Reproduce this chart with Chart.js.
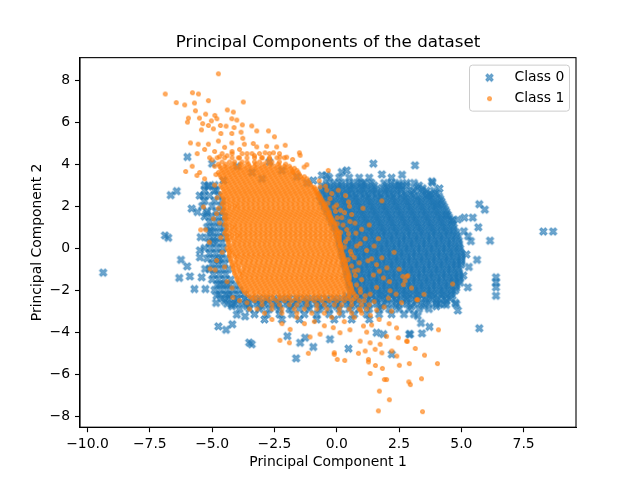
<!DOCTYPE html>
<html>
<head>
<meta charset="utf-8">
<script src="https://cdn.jsdelivr.net/npm/chart.js@4/dist/chart.umd.min.js"></script>
<style>
  html, body { margin: 0; background: #fff; }
  canvas { display: block; }
</style>
</head>
<body>
<canvas id="pca" width="640" height="480"></canvas>
<script>
// ─── data ─────────────────────────────────────────────
const classNames = ['Class 0', 'Class 1'];
const xTicks = [-10, -7.5, -5, -2.5, 0, 2.5, 5, 7.5];
const yTicks = [-8, -6, -4, -2, 0, 2, 4, 6, 8];

// Class 0: points that stand apart, [x, y]
const class0Scatter = [
  [-9.37,-1.17],[8.29,0.79],[8.68,0.79],
  [3.84,3.11],[4.12,2.84],[3.68,2.52],[5.72,2.09],[5.94,1.83],[5.68,0.99],[6.15,0.35],[5.27,0.57],[5.38,0.33],
  [4.86,1.36],[5.12,1.45],[5.46,1.45],[5.63,-0.56],[6.39,-1.39],[6.39,-1.63],[6.39,-1.87],[6.39,-2.27],
  [5.08,-1.31],[5.26,-1.87],[4.76,-2.61],[4.65,1.32],[4.05,2.09],[4.39,1.56],[5.2,-0.3],[5.3,-0.9],[5.1,0.8],
  [1.47,4.02],[1.81,3.51],[2.62,3.49],[3.14,3.94],[0.4,3.7],[0.2,3.62],[-0.4,3.46],[-0.6,3.46],[-0.94,3.22],
  [1.0,3.09],[2.54,2.98],[3.82,3.18],
  [-6.42,2.71],[-6.66,2.52],[-5.82,1.88],[-5.59,1.72],[-6.89,0.6],[-6.76,0.49],[-6.25,-0.56],[-6.0,-0.87],
  [-6.32,-1.42],[-5.89,-1.35],[-5.42,-1.39],[-5.71,-1.95],[-5.27,-1.95],[-5.49,-0.11],[-5.49,-0.44],[-5.46,0.52],
  [-5.35,2.47],[-5.15,2.92],[-4.82,2.76],[-5.22,1.64],[-5.08,0.84],[-4.95,0.36],[-5.28,-0.99],[-4.75,-0.59],
  [-4.68,-1.71],[-4.41,-1.71],[-4.82,-2.27],[-4.35,-2.27],
  [-5.99,4.34],[-5.0,4.02],[-5.16,2.98],[-4.55,3.22],
  [-4.84,-2.61],[-4.21,-2.68],[-4.01,-3.17],[-3.68,-3.25],[-4.75,-3.73],[-4.44,-3.89],[-4.19,-3.63],[-3.51,-4.5],[-3.41,-4.58],
  [-1.98,-4.19],[-1.47,-4.51],[-1.27,-4.27],[-0.94,-4.71],[-1.63,-5.25],[-0.27,-4.34],[0.47,-4.79],[2.94,-4.1],
  [2.21,-5.06],[1.87,-4.1],[1.6,-4.03],
  [5.72,-3.82],[4.86,-2.97],[4.79,-2.67],[3.38,-3.57],[3.72,-3.75],[3.42,-4.06],[2.91,-4.1],[3.25,-3.23],[4.12,-2.67],[4.39,-2.7],
  [-2.7,4.1],[-2.2,3.7],[-1.6,3.4],[-3.4,3.6],[-4.0,3.9],[-1.2,3.1],[-3.0,3.3]
];

// Class 0: the dense cloud, read row by row: [y, x1, x2, ...]
const class0Rows = [
  [3.35, -0.3,0.1,0.5,0.9,1.3,2.2],
  [3.1, -0.4,-0.1,0.2,0.5,0.8,1.1,1.4,1.9,2.2,2.5,2.8,3.1],
  [2.98, -0.6,-0.3,0,0.2,0.5,0.7,1.0,1.2,1.5,2.0,2.3,2.5,2.8,3.3],
  [2.85, -0.5,-0.25,0,0.25,0.5,0.75,1,1.25,1.5,1.8,2.05,2.3,2.6,3.2,3.45],
  [2.73, -0.6,-0.4,-0.1,0.1,0.4,0.6,0.9,1.1,1.4,1.6,1.9,2.1,2.4,2.6,2.9,3.1,3.4,3.6,3.9],
  [2.6, -0.6,-0.35,-0.1,0.15,0.4,0.65,0.9,1.15,1.4,1.65,1.9,2.15,2.4,2.7,3.0,3.5,3.75,4.0],
  [2.48, -0.7,-0.4,-0.2,0.1,0.3,0.6,0.8,1.1,1.3,1.6,1.8,2.1,2.3,2.6,2.8,3.1,3.3,3.6,3.8,4.1],
  [2.35, -0.6,-0.35,-0.1,0.15,0.4,0.65,0.9,1.15,1.4,1.65,1.9,2.15,2.4,2.65,2.9,3.15,3.4,3.65,3.9,4.15],
  [2.23, -0.6,-0.3,-0.1,0.2,0.4,0.7,0.9,1.2,1.4,1.7,1.9,2.2,2.4,2.7,2.9,3.2,3.4,3.7,3.9,4.2],
  [2.1, -0.5,-0.25,0,0.25,0.5,0.75,1,1.25,1.5,1.75,2,2.25,2.5,2.75,3,3.25,3.5,3.75,4,4.25],
  [1.98, -0.5,-0.2,0,0.3,0.5,0.8,1.0,1.3,1.5,1.8,2.0,2.3,2.5,2.8,3.0,3.3,3.5,3.8,4.0,4.3],
  [1.85, -0.4,-0.15,0.1,0.35,0.6,0.85,1.1,1.35,1.6,1.85,2.1,2.35,2.6,2.85,3.1,3.35,3.6,3.85,4.1,4.35],
  [1.73, -0.4,-0.1,0.1,0.4,0.6,0.9,1.1,1.4,1.6,1.9,2.1,2.4,2.6,2.9,3.1,3.4,3.6,3.9,4.1,4.4],
  [1.6, -0.3,-0.05,0.2,0.45,0.7,0.95,1.2,1.45,1.7,1.95,2.2,2.45,2.7,2.95,3.2,3.45,3.7,3.95,4.2,4.45],
  [1.48, -0.3,0,0.2,0.5,0.7,1.0,1.2,1.5,1.7,2.0,2.2,2.5,2.7,3.0,3.2,3.5,3.7,4.0,4.2,4.5],
  [1.35, -0.2,0.05,0.3,0.55,0.8,1.05,1.3,1.55,1.8,2.05,2.3,2.55,2.8,3.05,3.3,3.55,3.8,4.05,4.3,4.55],
  [1.23, -0.2,0.1,0.3,0.6,0.8,1.1,1.3,1.6,1.8,2.1,2.3,2.6,2.8,3.1,3.3,3.6,3.8,4.1,4.3,4.6],
  [1.1, -0.1,0.15,0.4,0.65,0.9,1.15,1.4,1.65,1.9,2.15,2.4,2.65,2.9,3.15,3.4,3.65,3.9,4.15,4.4,4.65],
  [0.98, -0.1,0.2,0.4,0.7,0.9,1.2,1.4,1.7,1.9,2.2,2.4,2.7,2.9,3.2,3.4,3.7,3.9,4.2,4.4,4.7],
  [0.85, 0,0.25,0.5,0.75,1,1.25,1.5,1.75,2,2.25,2.5,2.75,3,3.25,3.5,3.75,4,4.25,4.5,4.7],
  [0.73, 0,0.3,0.5,0.8,1.0,1.3,1.5,1.8,2.0,2.3,2.5,2.8,3.0,3.3,3.5,3.8,4.0,4.3,4.5,4.8],
  [0.6, 0.05,0.3,0.55,0.8,1.05,1.3,1.55,1.8,2.05,2.3,2.55,2.8,3.05,3.3,3.55,3.8,4.05,4.3,4.55,4.8],
  [0.48, 0.1,0.3,0.6,0.8,1.1,1.3,1.6,1.8,2.1,2.3,2.6,2.8,3.1,3.3,3.6,3.8,4.1,4.3,4.6,4.85],
  [0.35, 0.1,0.35,0.6,0.85,1.1,1.35,1.6,1.85,2.1,2.35,2.6,2.85,3.1,3.35,3.6,3.85,4.1,4.35,4.6,4.9],
  [0.23, 0.1,0.4,0.6,0.9,1.1,1.4,1.6,1.9,2.1,2.4,2.6,2.9,3.1,3.4,3.6,3.9,4.1,4.4,4.6,4.9],
  [0.1, 0.15,0.4,0.65,0.9,1.15,1.4,1.65,1.9,2.15,2.4,2.65,2.9,3.15,3.4,3.65,3.9,4.15,4.4,4.65,4.9],
  [-0.02, 0.2,0.4,0.7,0.9,1.2,1.4,1.7,1.9,2.2,2.4,2.7,2.9,3.2,3.4,3.7,3.9,4.2,4.4,4.7,4.95],
  [-0.15, 0.2,0.45,0.7,0.95,1.2,1.45,1.7,1.95,2.2,2.45,2.7,2.95,3.2,3.45,3.7,3.95,4.2,4.45,4.7,4.95],
  [-0.27, 0.2,0.5,0.7,1.0,1.2,1.5,1.7,2.0,2.2,2.5,2.7,3.0,3.2,3.5,3.7,4.0,4.2,4.5,4.7,5.0],
  [-0.4, 0.25,0.5,0.75,1,1.25,1.5,1.75,2,2.25,2.5,2.75,3,3.25,3.5,3.75,4,4.25,4.5,4.75,5.0],
  [-0.52, 0.3,0.5,0.8,1.0,1.3,1.5,1.8,2.0,2.3,2.5,2.8,3.0,3.3,3.5,3.8,4.0,4.3,4.5,4.8,5.0],
  [-0.65, 0.3,0.55,0.8,1.05,1.3,1.55,1.8,2.05,2.3,2.55,2.8,3.05,3.3,3.55,3.8,4.05,4.3,4.55,4.8,5.0],
  [-0.77, 0.3,0.6,0.8,1.1,1.3,1.6,1.8,2.1,2.3,2.6,2.8,3.1,3.3,3.6,3.8,4.1,4.3,4.6,4.8,5.0],
  [-0.9, 0.35,0.6,0.85,1.1,1.35,1.6,1.85,2.1,2.35,2.6,2.85,3.1,3.35,3.6,3.85,4.1,4.35,4.6,4.85],
  [-1.02, 0.4,0.6,0.9,1.1,1.4,1.6,1.9,2.1,2.4,2.6,2.9,3.1,3.4,3.6,3.9,4.1,4.4,4.6,4.9],
  [-1.15, 0.4,0.65,0.9,1.15,1.4,1.65,1.9,2.15,2.4,2.65,2.9,3.15,3.4,3.65,3.9,4.15,4.4,4.65,4.9],
  [-1.27, 0.4,0.7,0.9,1.2,1.4,1.7,1.9,2.2,2.4,2.7,2.9,3.2,3.4,3.7,3.9,4.2,4.4,4.7,4.9],
  [-1.4, 0.45,0.7,0.95,1.2,1.45,1.7,1.95,2.2,2.45,2.7,2.95,3.2,3.45,3.7,3.95,4.2,4.45,4.7,4.95],
  [-1.52, 0.5,0.7,1.0,1.2,1.5,1.7,2.0,2.2,2.5,2.7,3.0,3.2,3.5,3.7,4.0,4.2,4.5,4.7,4.9],
  [-1.65, 0.5,0.75,1,1.25,1.5,1.75,2,2.25,2.5,2.75,3,3.25,3.5,3.75,4,4.25,4.5,4.75,4.95],
  [-1.77, 0.5,0.8,1.0,1.3,1.5,1.8,2.0,2.3,2.5,2.8,3.0,3.3,3.5,3.8,4.0,4.3,4.5,4.8],
  [-1.9, 0.55,0.8,1.05,1.3,1.55,1.8,2.05,2.3,2.55,2.8,3.05,3.3,3.55,3.8,4.05,4.3,4.55,4.8],
  [-2.02, 0.6,0.8,1.1,1.3,1.6,1.8,2.1,2.3,2.6,2.8,3.1,3.3,3.6,3.8,4.1,4.3,4.6,4.75],
  [-2.15, 0.6,0.85,1.1,1.35,1.6,1.85,2.1,2.35,2.6,2.85,3.1,3.35,3.6,3.85,4.1,4.35,4.6],
  [-2.27, 0.4,0.7,0.9,1.2,1.4,1.7,1.9,2.2,2.4,2.7,2.9,3.2,3.4,3.7,3.9,4.2,4.4,4.65],
  [-2.4, -4.6,-4.3,-4,-3.7,-3.4,-3.1,-2.8,-2.5,-2.2,-1.9,-1.6,-1.3,-1,-0.7,-0.4,-0.1,0.2,0.5,0.8,1.05,1.3,1.55,1.8,2.05,2.3,2.55,2.8,3.05,3.3,3.55,3.8,4.05,4.3,4.55],
  [-2.52, -4.5,-4.0,-3.6,-3.2,-2.8,-2.4,-2.0,-1.6,-1.2,-0.8,-0.4,0.0,0.4,0.8,1.2,1.6,2.0,2.4,2.8,3.2,3.6,4.0,4.4],
  [-2.65, -4.4,-4.1,-3.8,-3.5,-3.2,-2.9,-2.6,-2.3,-2,-1.7,-1.4,-1.1,-0.8,-0.5,-0.2,0.1,0.4,0.7,1,1.3,1.6,1.9,2.2,2.5,2.8,3.1,3.4,3.7,4,4.3],
  [-2.77, -4.2,-3.6,-3.0,-2.4,-1.8,-1.2,-0.6,0,0.6,1.2,1.8,2.4,3.0,3.5,4.0],
  [-2.9, -3.9,-3.5,-3.1,-2.7,-2.3,-1.9,-1.5,-1.1,-0.7,-0.3,0.1,0.5,0.9,1.3,1.7,2.1,2.5,2.9,3.3,3.7],
  [-3.15, -3.3,-2.8,-2.3,-1.8,-1.3,-0.8,-0.3,0.2,0.7,1.2,1.7,2.2,2.7,3.1],
  [-3.4, -2.9,-2.2,-1.5,-0.8,-0.1,0.6,1.3],
  // left flank of the cloud, beside the orange mass
  [3.0, -5.3,-4.9],
  [2.75, -5.3,-4.9],
  [2.5, -5.5,-5.1,-4.75],
  [2.25, -5.3,-4.9,-4.6],
  [2.0, -5.4,-5.0,-4.65],
  [1.75, -5.2,-4.85,-4.6],
  [1.5, -5.3,-5.0,-4.75,-4.5],
  [1.25, -5.1,-4.85,-4.6],
  [1.0, -5.2,-4.95,-4.7,-4.5],
  [0.75, -5.05,-4.8,-4.55],
  [0.5, -5.2,-4.95,-4.7,-4.45],
  [0.25, -5.1,-4.85,-4.6],
  [0.0, -5.3,-5.05,-4.8,-4.55],
  [-0.25, -5.1,-4.85,-4.6],
  [-0.5, -5.2,-4.95,-4.7,-4.45],
  [-0.75, -5.0,-4.75,-4.5],
  [-1.0, -5.1,-4.85,-4.6,-4.35],
  [-1.25, -4.95,-4.7,-4.45],
  [-1.5, -5.0,-4.75,-4.5,-4.25],
  [-1.75, -4.8,-4.55,-4.3,-4.05],
  [-2.0, -4.9,-4.65,-4.4,-4.15,-3.9],
  [-2.2, -4.7,-4.45,-4.2,-3.95,-3.7]
];

// Class 1: points that stand apart, [x, y]
const class1Scatter = [
  [-4.75,8.3],[-6.88,7.34],[-5.79,7.4],[-5.55,7.34],[-6.44,6.93],[-6.1,6.82],[-5.71,6.91],[-5.15,7.02],[-3.75,6.96],
  [-5.67,6.54],[-5.26,6.38],[-5.95,6.19],[-5.99,6.0],[-5.51,6.19],[-5.03,6.06],[-4.89,6.32],[-4.81,6.16],[-4.39,6.58],
  [-4.15,6.48],[-4.21,6.16],[-4.01,6.1],[-5.38,5.93],[-5.15,5.84],[-4.95,5.68],[-4.67,5.84],[-4.44,5.81],[-4.12,5.74],
  [-3.79,5.87],[-5.43,5.63],[-4.65,5.46],[-4.21,5.46],[-3.84,5.52],[-3.77,5.23],[-4.75,5.1],[-5.87,5.01],[-5.56,4.95],
  [-5.15,4.95],[-4.21,5.01],[-3.71,4.95],
  [-3.41,5.82],[-3.21,5.58],[-2.74,5.58],[-2.5,5.3],[-2.81,4.85],[-2.41,4.82],[-2.07,4.9],[-3.21,4.82],[-3.35,4.98],
  [-2.88,4.54],[-2.54,4.54],[-2.28,4.33],[-2.01,4.33],[-1.77,4.22],[-1.5,4.54],[-1.47,4.42],[-1.31,3.86],[-1.2,3.97],
  [-0.34,3.7],[-1.77,3.62],
  [-5.6,4.5],[-5.3,4.7],[-4.9,4.6],[-4.5,4.8],[-4.2,4.6],[-3.9,4.7],[-3.6,4.5],[-5.1,4.3],[-4.7,4.35],[-4.4,4.4],
  [-3.95,4.3],[-3.3,4.4],[-3.0,4.3],[-2.7,4.25],[-5.8,3.9],[-5.5,3.6],[-5.3,3.3],[-6.06,3.65],[-5.61,3.46],
  [-5.35,1.96],[-5.46,0.87],[-5.26,0.87],[-5.11,0.28],[-5.08,-0.99],[-4.88,-1.04],[-4.82,-0.59],[-4.17,-2.35],
  [-4.95,1.4],[-4.82,1.64],
  [-4.85,3.5],[-4.9,3.0],[-4.8,2.4],[-4.75,1.9],[-4.7,1.2],[-4.65,0.5],[-4.6,-0.2],[-4.5,-0.9],[-4.4,-1.6],
  [-4.2,-1.9],[-4.9,3.9],[-5.0,4.2],
  [1.81,2.25],[0.06,2.76],[0.47,2.2],[0.51,1.99],[0.31,1.69],[0.02,1.45],[0.02,1.16],[0.53,1.27],[0.73,1.19],
  [0.4,0.88],[0.47,0.68],[0.77,0.71],[1.14,0.45],[1.67,0.45],[0.94,0.21],[1.2,-0.11],[1.4,-0.51],[1.81,-0.46],
  [1.6,-0.79],[1.71,-1.1],[2.01,-0.94],[1.47,-1.28],[1.87,-1.42],[2.11,-1.6],[2.65,-1.35],[2.81,-1.35],[2.74,-1.55],
  [2.67,-1.74],[2.14,-2.03],[2.38,-2.19],[2.07,-2.38],[3.21,-2.46],[1.6,-1.87],[1.34,-2.19],[0.94,-1.95],[1.14,-2.27],
  [-0.27,2.36],[-0.4,2.76],[-0.67,2.92],[0.9,-0.7],[0.7,-1.1],[1.0,-1.5],[0.6,-0.3],[0.8,0.1],[0.35,0.3],[0.6,1.6],
  [2.85,-1.31],[4.65,-1.71],[3.25,-2.46],
  [-0.7,3.2],[-0.45,2.95],[-0.2,2.6],[-0.35,2.15],[0.0,2.05],[-0.05,1.75],[0.2,1.45],[0.25,1.1],[0.15,0.75],
  [0.45,0.45],[0.3,0.05],[0.55,-0.15],[0.45,-0.55],[0.7,-0.45],[0.6,-0.85],[0.75,-1.3],[0.85,-1.05],[0.8,-1.75],
  [0.95,-2.1],[1.1,-2.5],[1.3,-2.7],[1.5,-2.55],[1.6,-2.95],[1.9,-2.8],[2.2,-3.0],[0.95,-2.95],[1.35,-3.2],
  [-0.1,1.95],[0.15,1.8],[0.35,2.5],[1.05,1.9],[1.3,1.1],[1.0,0.9],[1.25,-0.6],[1.5,0.1],[2.3,-0.2],[2.5,-1.0],
  [3.0,-1.9],[3.5,-2.2],[2.6,-2.6],
  [-3.6,-2.6],[-3.9,-2.5],[-3.2,-2.9],[-2.9,-3.1],[-3.5,-2.9],
  [4.08,-3.89],[3.15,-4.78],[3.52,-5.1],[2.91,-5.5],[4.04,-5.5],[3.4,-6.22],[2.89,-6.37],[2.95,-6.5],[3.44,-7.79],
  [2.82,-4.44],[1.67,-7.75],[2.11,-7.22],[1.71,-6.81],[1.91,-6.26],[2.0,-6.26],[1.34,-5.97],[1.83,-5.73],[1.55,-5.59],
  [1.27,-5.42],[1.27,-5.3],[2.51,-5.58],[0.02,-5.3],[0.32,-5.35],[-0.1,-4.98],[-0.1,-5.06],[-1.14,-5.01],[0.87,-5.01],
  [1.14,-4.9],[1.54,-4.82],[1.81,-4.99],[2.21,-4.9],[2.41,-5.14],[-1.9,-4.51],[-2.28,-4.39],[-0.67,-4.1],[-1.07,-4.23],
  [2.47,-4.27],[2.81,-4.43],[0.53,-3.89],[1.07,-3.71],[1.4,-3.66],[0.94,-4.43],[1.34,-4.51],[1.74,-4.58],[-1.87,-3.87],
  [-0.14,-3.79],[0.13,-4.03],
  [-1.3,-3.6],[-0.9,-3.5],[-0.5,-3.7],[-0.2,-3.3],[0.3,-3.5],[0.7,-3.3],[-1.6,-3.3],[-2.2,-3.6],[-2.6,-3.4],
  [1.7,-3.4],[2.1,-3.6],[2.4,-3.8],[2.0,-4.2],[1.2,-4.0]
];

// Class 1: the dense cloud, read row by row: [y, x1, x2, ...]
const class1Rows = [
  [4.5, -4.6,-4.2,-3.8,-3.4,-3.1,-2.7,-2.3],
  [4.3, -4.8,-4.5,-4.2,-3.9,-3.6,-3.3,-3.0,-2.7,-2.4,-2.1],
  [4.1, -4.6,-4.3,-4.1,-3.8,-3.6,-3.3,-3.1,-2.8,-2.6,-2.3],
  [4.0, -4.75,-4.45,-4.15,-3.85,-3.55,-3.25,-2.95,-2.65,-2.35,-2.05],
  [3.9, -4.7,-4.5,-4.3,-4.1,-3.9,-3.7,-3.5,-3.3,-3.1,-2.9,-2.7,-2.5,-2.3,-2.1,-1.9],
  [3.8, -4.65,-4.45,-4.25,-4.05,-3.85,-3.65,-3.45,-3.25,-3.05,-2.85,-2.65,-2.45,-2.25,-2.05,-1.85,-1.7],
  [3.7, -4.6,-4.4,-4.2,-4.0,-3.8,-3.6,-3.4,-3.2,-3.0,-2.8,-2.6,-2.4,-2.2,-2.0,-1.8,-1.6],
  [3.6, -4.75,-4.55,-4.35,-4.15,-3.95,-3.75,-3.55,-3.35,-3.15,-2.95,-2.75,-2.55,-2.35,-2.15,-1.95,-1.75,-1.55],
  [3.5, -4.7,-4.5,-4.3,-4.1,-3.9,-3.7,-3.5,-3.3,-3.1,-2.9,-2.7,-2.5,-2.3,-2.1,-1.9,-1.7,-1.5],
  [3.4, -4.65,-4.45,-4.25,-4.05,-3.85,-3.65,-3.45,-3.25,-3.05,-2.85,-2.65,-2.45,-2.25,-2.05,-1.85,-1.65,-1.45,-1.3],
  [3.3, -4.6,-4.4,-4.2,-4.0,-3.8,-3.6,-3.4,-3.2,-3.0,-2.8,-2.6,-2.4,-2.2,-2.0,-1.8,-1.6,-1.4,-1.2],
  [3.2, -4.55,-4.35,-4.15,-3.95,-3.75,-3.55,-3.35,-3.15,-2.95,-2.75,-2.55,-2.35,-2.15,-1.95,-1.75,-1.55,-1.35,-1.15],
  [3.1, -4.5,-4.3,-4.1,-3.9,-3.7,-3.5,-3.3,-3.1,-2.9,-2.7,-2.5,-2.3,-2.1,-1.9,-1.7,-1.5,-1.3,-1.1],
  [3.0, -4.65,-4.45,-4.25,-4.05,-3.85,-3.65,-3.45,-3.25,-3.05,-2.85,-2.65,-2.45,-2.25,-2.05,-1.85,-1.65,-1.45,-1.25,-1.05],
  [2.9, -4.6,-4.4,-4.2,-4.0,-3.8,-3.6,-3.4,-3.2,-3.0,-2.8,-2.6,-2.4,-2.2,-2.0,-1.8,-1.6,-1.4,-1.2,-1.0,-0.9],
  [2.8, -4.55,-4.35,-4.15,-3.95,-3.75,-3.55,-3.35,-3.15,-2.95,-2.75,-2.55,-2.35,-2.15,-1.95,-1.75,-1.55,-1.35,-1.15,-0.95,-0.85],
  [2.7, -4.5,-4.3,-4.1,-3.9,-3.7,-3.5,-3.3,-3.1,-2.9,-2.7,-2.5,-2.3,-2.1,-1.9,-1.7,-1.5,-1.3,-1.1,-0.9,-0.8],
  [2.6, -4.65,-4.45,-4.25,-4.05,-3.85,-3.65,-3.45,-3.25,-3.05,-2.85,-2.65,-2.45,-2.25,-2.05,-1.85,-1.65,-1.45,-1.25,-1.05,-0.85,-0.75],
  [2.5, -4.6,-4.4,-4.2,-4.0,-3.8,-3.6,-3.4,-3.2,-3.0,-2.8,-2.6,-2.4,-2.2,-2.0,-1.8,-1.6,-1.4,-1.2,-1.0,-0.8,-0.7],
  [2.4, -4.55,-4.35,-4.15,-3.95,-3.75,-3.55,-3.35,-3.15,-2.95,-2.75,-2.55,-2.35,-2.15,-1.95,-1.75,-1.55,-1.35,-1.15,-0.95,-0.75,-0.65],
  [2.3, -4.5,-4.3,-4.1,-3.9,-3.7,-3.5,-3.3,-3.1,-2.9,-2.7,-2.5,-2.3,-2.1,-1.9,-1.7,-1.5,-1.3,-1.1,-0.9,-0.7,-0.6],
  [2.2, -4.55,-4.35,-4.15,-3.95,-3.75,-3.55,-3.35,-3.15,-2.95,-2.75,-2.55,-2.35,-2.15,-1.95,-1.75,-1.55,-1.35,-1.15,-0.95,-0.75,-0.55],
  [2.1, -4.6,-4.4,-4.2,-4.0,-3.8,-3.6,-3.4,-3.2,-3.0,-2.8,-2.6,-2.4,-2.2,-2.0,-1.8,-1.6,-1.4,-1.2,-1.0,-0.8,-0.6,-0.5],
  [2.0, -4.5,-4.3,-4.1,-3.95,-3.75,-3.55,-3.35,-3.15,-2.95,-2.75,-2.55,-2.35,-2.15,-1.95,-1.75,-1.55,-1.35,-1.15,-0.95,-0.75,-0.55,-0.45],
  [1.9, -4.5,-4.3,-4.1,-3.9,-3.7,-3.5,-3.3,-3.1,-2.9,-2.7,-2.5,-2.3,-2.1,-1.9,-1.7,-1.5,-1.3,-1.1,-0.9,-0.7,-0.5,-0.4],
  [1.8, -4.55,-4.35,-4.15,-3.95,-3.75,-3.55,-3.35,-3.15,-2.95,-2.75,-2.55,-2.35,-2.15,-1.95,-1.75,-1.55,-1.35,-1.15,-0.95,-0.75,-0.55,-0.35],
  [1.7, -4.6,-4.4,-4.2,-4.0,-3.8,-3.6,-3.4,-3.2,-3.0,-2.8,-2.6,-2.4,-2.2,-2.0,-1.8,-1.6,-1.4,-1.2,-1.0,-0.8,-0.6,-0.4,-0.3],
  [1.6, -4.45,-4.25,-4.05,-3.85,-3.65,-3.45,-3.25,-3.05,-2.85,-2.65,-2.45,-2.25,-2.05,-1.85,-1.65,-1.45,-1.25,-1.05,-0.85,-0.65,-0.45,-0.3],
  [1.5, -4.5,-4.3,-4.1,-3.9,-3.7,-3.5,-3.3,-3.1,-2.9,-2.7,-2.5,-2.3,-2.1,-1.9,-1.7,-1.5,-1.3,-1.1,-0.9,-0.7,-0.5,-0.3,-0.25],
  [1.4, -4.5,-4.35,-4.15,-3.95,-3.75,-3.55,-3.35,-3.15,-2.95,-2.75,-2.55,-2.35,-2.15,-1.95,-1.75,-1.55,-1.35,-1.15,-0.95,-0.75,-0.55,-0.35,-0.2],
  [1.3, -4.4,-4.2,-4.0,-3.8,-3.6,-3.4,-3.2,-3.0,-2.8,-2.6,-2.4,-2.2,-2.0,-1.8,-1.6,-1.4,-1.2,-1.0,-0.8,-0.6,-0.4,-0.25,-0.15],
  [1.2, -4.45,-4.25,-4.05,-3.85,-3.65,-3.45,-3.25,-3.05,-2.85,-2.65,-2.45,-2.25,-2.05,-1.85,-1.65,-1.45,-1.25,-1.05,-0.85,-0.65,-0.45,-0.25,-0.1],
  [1.1, -4.5,-4.3,-4.1,-3.9,-3.7,-3.5,-3.3,-3.1,-2.9,-2.7,-2.5,-2.3,-2.1,-1.9,-1.7,-1.5,-1.3,-1.1,-0.9,-0.7,-0.5,-0.3,-0.1],
  [1.0, -4.4,-4.2,-4.05,-3.85,-3.65,-3.45,-3.25,-3.05,-2.85,-2.65,-2.45,-2.25,-2.05,-1.85,-1.65,-1.45,-1.25,-1.05,-0.85,-0.65,-0.45,-0.25,-0.05],
  [0.9, -4.4,-4.2,-4.0,-3.8,-3.6,-3.4,-3.2,-3.0,-2.8,-2.6,-2.4,-2.2,-2.0,-1.8,-1.6,-1.4,-1.2,-1.0,-0.8,-0.6,-0.4,-0.2,0.0],
  [0.8, -4.45,-4.25,-4.05,-3.85,-3.65,-3.45,-3.25,-3.05,-2.85,-2.65,-2.45,-2.25,-2.05,-1.85,-1.65,-1.45,-1.25,-1.05,-0.85,-0.65,-0.45,-0.25,-0.05,0.05],
  [0.7, -4.5,-4.3,-4.1,-3.9,-3.7,-3.5,-3.3,-3.1,-2.9,-2.7,-2.5,-2.3,-2.1,-1.9,-1.7,-1.5,-1.3,-1.1,-0.9,-0.7,-0.5,-0.3,-0.1,0.05],
  [0.6, -4.4,-4.2,-4.0,-3.85,-3.65,-3.45,-3.25,-3.05,-2.85,-2.65,-2.45,-2.25,-2.05,-1.85,-1.65,-1.45,-1.25,-1.05,-0.85,-0.65,-0.45,-0.25,-0.05,0.1],
  [0.5, -4.4,-4.2,-4.0,-3.8,-3.6,-3.4,-3.2,-3.0,-2.8,-2.6,-2.4,-2.2,-2.0,-1.8,-1.6,-1.4,-1.2,-1.0,-0.8,-0.6,-0.4,-0.2,0.0,0.1],
  [0.4, -4.4,-4.25,-4.05,-3.85,-3.65,-3.45,-3.25,-3.05,-2.85,-2.65,-2.45,-2.25,-2.05,-1.85,-1.65,-1.45,-1.25,-1.05,-0.85,-0.65,-0.45,-0.25,-0.05,0.1],
  [0.3, -4.35,-4.1,-3.9,-3.7,-3.5,-3.3,-3.1,-2.9,-2.7,-2.5,-2.3,-2.1,-1.9,-1.7,-1.5,-1.3,-1.1,-0.9,-0.7,-0.5,-0.3,-0.1,0.1],
  [0.2, -4.35,-4.15,-3.95,-3.75,-3.55,-3.35,-3.15,-2.95,-2.75,-2.55,-2.35,-2.15,-1.95,-1.75,-1.55,-1.35,-1.15,-0.95,-0.75,-0.55,-0.35,-0.15,0.05,0.15],
  [0.1, -4.3,-4.1,-3.9,-3.7,-3.5,-3.3,-3.1,-2.9,-2.7,-2.5,-2.3,-2.1,-1.9,-1.7,-1.5,-1.3,-1.1,-0.9,-0.7,-0.5,-0.3,-0.1,0.1,0.15],
  [0.0, -4.4,-4.25,-4.05,-3.85,-3.65,-3.45,-3.25,-3.05,-2.85,-2.65,-2.45,-2.25,-2.05,-1.85,-1.65,-1.45,-1.25,-1.05,-0.85,-0.65,-0.45,-0.25,-0.05,0.15],
  [-0.1, -4.35,-4.2,-4.0,-3.8,-3.6,-3.4,-3.2,-3.0,-2.8,-2.6,-2.4,-2.2,-2.0,-1.8,-1.6,-1.4,-1.2,-1.0,-0.8,-0.6,-0.4,-0.2,0.0,0.2],
  [-0.2, -4.3,-4.15,-3.95,-3.75,-3.55,-3.35,-3.15,-2.95,-2.75,-2.55,-2.35,-2.15,-1.95,-1.75,-1.55,-1.35,-1.15,-0.95,-0.75,-0.55,-0.35,-0.15,0.05,0.2],
  [-0.3, -4.3,-4.1,-3.9,-3.7,-3.5,-3.3,-3.1,-2.9,-2.7,-2.5,-2.3,-2.1,-1.9,-1.7,-1.5,-1.3,-1.1,-0.9,-0.7,-0.5,-0.3,-0.1,0.1,0.25],
  [-0.4, -4.3,-4.1,-3.95,-3.75,-3.55,-3.35,-3.15,-2.95,-2.75,-2.55,-2.35,-2.15,-1.95,-1.75,-1.55,-1.35,-1.15,-0.95,-0.75,-0.55,-0.35,-0.15,0.05,0.25],
  [-0.5, -4.25,-4.0,-3.8,-3.6,-3.4,-3.2,-3.0,-2.8,-2.6,-2.4,-2.2,-2.0,-1.8,-1.6,-1.4,-1.2,-1.0,-0.8,-0.6,-0.4,-0.2,0.0,0.2,0.3],
  [-0.6, -4.25,-4.05,-3.85,-3.65,-3.45,-3.25,-3.05,-2.85,-2.65,-2.45,-2.25,-2.05,-1.85,-1.65,-1.45,-1.25,-1.05,-0.85,-0.65,-0.45,-0.25,-0.05,0.15,0.3],
  [-0.7, -4.2,-4.0,-3.8,-3.6,-3.4,-3.2,-3.0,-2.8,-2.6,-2.4,-2.2,-2.0,-1.8,-1.6,-1.4,-1.2,-1.0,-0.8,-0.6,-0.4,-0.2,0.0,0.2,0.35],
  [-0.8, -4.2,-4.05,-3.85,-3.65,-3.45,-3.25,-3.05,-2.85,-2.65,-2.45,-2.25,-2.05,-1.85,-1.65,-1.45,-1.25,-1.05,-0.85,-0.65,-0.45,-0.25,-0.05,0.15,0.35],
  [-0.9, -4.15,-3.95,-3.7,-3.5,-3.3,-3.1,-2.9,-2.7,-2.5,-2.3,-2.1,-1.9,-1.7,-1.5,-1.3,-1.1,-0.9,-0.7,-0.5,-0.3,-0.1,0.1,0.3,0.4],
  [-1.0, -4.15,-3.95,-3.75,-3.55,-3.35,-3.15,-2.95,-2.75,-2.55,-2.35,-2.15,-1.95,-1.75,-1.55,-1.35,-1.15,-0.95,-0.75,-0.55,-0.35,-0.15,0.05,0.25,0.4],
  [-1.1, -4.1,-3.9,-3.7,-3.5,-3.3,-3.1,-2.9,-2.7,-2.5,-2.3,-2.1,-1.9,-1.7,-1.5,-1.3,-1.1,-0.9,-0.7,-0.5,-0.3,-0.1,0.1,0.3,0.45],
  [-1.2, -4.1,-3.9,-3.75,-3.55,-3.35,-3.15,-2.95,-2.75,-2.55,-2.35,-2.15,-1.95,-1.75,-1.55,-1.35,-1.15,-0.95,-0.75,-0.55,-0.35,-0.15,0.05,0.25,0.45],
  [-1.3, -4.05,-3.8,-3.6,-3.4,-3.2,-3.0,-2.8,-2.6,-2.4,-2.2,-2.0,-1.8,-1.6,-1.4,-1.2,-1.0,-0.8,-0.6,-0.4,-0.2,0.0,0.2,0.4,0.5],
  [-1.4, -4.0,-3.85,-3.65,-3.45,-3.25,-3.05,-2.85,-2.65,-2.45,-2.25,-2.05,-1.85,-1.65,-1.45,-1.25,-1.05,-0.85,-0.65,-0.45,-0.25,-0.05,0.15,0.35,0.5],
  [-1.5, -4.0,-3.8,-3.6,-3.4,-3.2,-3.0,-2.8,-2.6,-2.4,-2.2,-2.0,-1.8,-1.6,-1.4,-1.2,-1.0,-0.8,-0.6,-0.4,-0.2,0.0,0.2,0.4,0.5],
  [-1.6, -3.95,-3.75,-3.55,-3.35,-3.15,-2.95,-2.75,-2.55,-2.35,-2.15,-1.95,-1.75,-1.55,-1.35,-1.15,-0.95,-0.75,-0.55,-0.35,-0.15,0.05,0.25,0.45],
  [-1.7, -3.9,-3.7,-3.5,-3.3,-3.1,-2.9,-2.7,-2.5,-2.3,-2.1,-1.9,-1.7,-1.5,-1.3,-1.1,-0.9,-0.7,-0.5,-0.3,-0.1,0.1,0.3,0.5,0.55],
  [-1.8, -3.85,-3.65,-3.45,-3.25,-3.05,-2.85,-2.65,-2.45,-2.25,-2.05,-1.85,-1.65,-1.45,-1.25,-1.05,-0.85,-0.65,-0.45,-0.25,-0.05,0.15,0.35,0.55],
  [-1.9, -3.8,-3.6,-3.4,-3.2,-3.0,-2.8,-2.6,-2.4,-2.2,-2.0,-1.8,-1.6,-1.4,-1.2,-1.0,-0.8,-0.6,-0.4,-0.2,0.0,0.2,0.4,0.6],
  [-2.0, -3.75,-3.55,-3.35,-3.15,-2.95,-2.75,-2.55,-2.35,-2.15,-1.95,-1.75,-1.55,-1.35,-1.15,-0.95,-0.75,-0.55,-0.35,-0.15,0.05,0.25,0.45,0.6],
  [-2.1, -3.7,-3.5,-3.3,-3.1,-2.9,-2.7,-2.5,-2.3,-2.1,-1.9,-1.7,-1.5,-1.3,-1.1,-0.9,-0.7,-0.5,-0.3,-0.1,0.1,0.3,0.5,0.65],
  [-2.2, -3.6,-3.35,-3.15,-2.95,-2.75,-2.55,-2.35,-2.15,-1.95,-1.75,-1.55,-1.35,-1.15,-0.95,-0.75,-0.55,-0.35,-0.15,0.05,0.25,0.5,0.7],
  [-2.3, -3.5,-3.3,-3.0,-2.8,-2.6,-2.3,-2.1,-1.9,-1.6,-1.4,-1.2,-0.9,-0.7,-0.5,-0.2,0.0,0.3,0.5,0.8],
  [-2.4, -3.4,-3.15,-2.85,-2.55,-2.25,-1.95,-1.65,-1.35,-1.05,-0.75,-0.45,-0.15,0.15,0.45,0.7],
  [-2.5, -3.3,-3.0,-2.7,-2.4,-2.1,-1.8,-1.5,-1.2,-0.9,-0.6,-0.3,0.0,0.3,0.6,0.9],
  [-2.7, -3.0,-2.6,-2.3,-1.9,-1.6,-1.2,-0.8,-0.5,-0.1,0.2,0.6,1.0],
  [-2.9, -2.6,-2.2,-1.7,-1.3,-0.8,-0.4,0.1,0.5,0.9,1.2],
  [-3.1, -2.2,-1.6,-1.0,-0.5,0.1,0.6,1.0]
];

// ─── marker images ────────────────────────────────────
// face and edge are painted separately, as the reference does, so the rim of each mark is deeper
const C0 = 'rgba(31,119,180,0.6)';
const C1 = 'rgba(255,127,14,0.6)';

function makeXMarker(color) {
  const cv = document.createElement('canvas');
  cv.width = 11; cv.height = 11;
  const g = cv.getContext('2d');
  const a = 3.9, w = 1.15, c = 5.5;
  const plus = [[w,a],[w,w],[a,w],[a,-w],[w,-w],[w,-a],[-w,-a],[-w,-w],[-a,-w],[-a,w],[-w,w],[-w,a]];
  const r = Math.SQRT1_2;
  g.beginPath();
  plus.forEach(([px, py], i) => {
    const x = c + (px - py) * r, y = c + (px + py) * r;
    i ? g.lineTo(x, y) : g.moveTo(x, y);
  });
  g.closePath();
  g.fillStyle = color;
  g.fill();
  g.strokeStyle = color;
  g.lineWidth = 1.2;
  g.lineJoin = 'miter';
  g.stroke();
  return cv;
}

function makeDot(color) {
  const cv = document.createElement('canvas');
  cv.width = 7; cv.height = 7;
  const g = cv.getContext('2d');
  g.beginPath();
  g.arc(3.5, 3.5, 1.95, 0, Math.PI * 2);
  g.fillStyle = color;
  g.fill();
  g.strokeStyle = color;
  g.lineWidth = 1.2;
  g.stroke();
  return cv;
}

const markX = makeXMarker(C0);
const markDot = makeDot(C1);

// ─── helpers ──────────────────────────────────────────
const fromPairs = pairs => pairs.map(([x, y]) => ({ x, y }));
const fromRows = rows => rows.flatMap(([y, ...xs]) => xs.map(x => ({ x, y })));
const fmtTick = (v, d) => (v < 0 ? '\u2212' : '') + Math.abs(v).toFixed(d);

const FONT = 'DejaVu Sans';

// frame around the axes and the boxed key in the upper right
const frameAndKey = {
  id: 'frameAndKey',
  afterDraw(chart) {
    const { ctx, chartArea: a } = chart;
    ctx.save();
    ctx.strokeStyle = '#000';
    ctx.lineWidth = 1.1;
    ctx.strokeRect(a.left, a.top, a.right - a.left, a.bottom - a.top);

    const bw = 100, bh = 46;
    const bx = a.right - 6.5 - bw, by = a.top + 7.5;
    ctx.beginPath();
    ctx.roundRect(bx, by, bw, bh, 3);
    ctx.fillStyle = 'rgba(255,255,255,0.8)';
    ctx.fill();
    ctx.strokeStyle = '#cccccc';
    ctx.lineWidth = 1;
    ctx.stroke();

    const marks = [markX, markDot];
    ctx.font = `13.9px "${FONT}"`;
    ctx.fillStyle = '#000';
    ctx.textBaseline = 'middle';
    classNames.forEach((name, i) => {
      const cy = by + 12.5 + i * 21;
      const m = marks[i];
      ctx.drawImage(m, bx + 20 - m.width / 2, cy - m.height / 2);
      ctx.fillText(name, bx + 45, cy);
    });
    ctx.restore();
  }
};

new Chart(document.getElementById('pca'), {
  type: 'scatter',
  data: {
    datasets: [
      {
        label: classNames[0],
        data: [...fromRows(class0Rows), ...fromPairs(class0Scatter)],
        pointStyle: markX, pointRadius: 4, pointHoverRadius: 4,
        backgroundColor: C0, borderColor: C0, order: 1,
      },
      {
        label: classNames[1],
        data: [...fromRows(class1Rows), ...fromPairs(class1Scatter)],
        pointStyle: markDot, pointRadius: 3, pointHoverRadius: 3,
        backgroundColor: C1, borderColor: C1, order: 0,
      },
    ],
  },
  options: {
    responsive: false,
    animation: false,
    events: [],
    layout: { padding: { left: 0, right: 64, top: 0, bottom: 0 } },
    plugins: {
      legend: { display: false },
      tooltip: { enabled: false },
      title: {
        display: true, text: 'Principal Components of the dataset', fullSize: false,
        color: '#000', font: { family: FONT, size: 16.7, weight: 'normal' },
        padding: { top: 33, bottom: 4.6 },
      },
    },
    scales: {
      x: {
        type: 'linear', min: -10.3, max: 9.6,
        afterBuildTicks: s => { s.ticks = xTicks.map(v => ({ value: v })); },
        afterFit: s => { s.height = 52.8; },
        ticks: { color: '#000', font: { family: FONT, size: 13.9 }, padding: 4, maxRotation: 0, autoSkip: false, callback: v => fmtTick(v, 1) },
        grid: { drawOnChartArea: false, drawTicks: true, tickLength: 5, tickColor: '#000', tickWidth: 1.1 },
        border: { display: true, color: '#000', width: 1.1 },
        title: { display: true, text: 'Principal Component 1', color: '#000', font: { family: FONT, size: 13.9 }, padding: { top: 0, bottom: 9.7 } },
      },
      y: {
        type: 'linear', min: -8.53, max: 9.07,
        afterBuildTicks: s => { s.ticks = yTicks.map(v => ({ value: v })); },
        afterFit: s => { s.width = 80; },
        ticks: { color: '#000', font: { family: FONT, size: 13.9 }, padding: 5, autoSkip: false, callback: v => fmtTick(v, 0) },
        grid: { drawOnChartArea: false, drawTicks: true, tickLength: 5, tickColor: '#000', tickWidth: 1.1 },
        border: { display: true, color: '#000', width: 1.1 },
        title: { display: true, text: 'Principal Component 2', color: '#000', font: { family: FONT, size: 13.9 }, padding: { top: 28.7, bottom: 0 } },
      },
    },
  },
  plugins: [frameAndKey],
});
</script>
</body>
</html>
